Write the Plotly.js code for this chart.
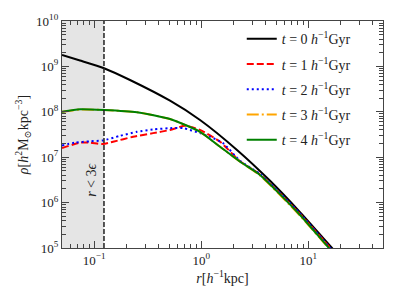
<!DOCTYPE html>
<html>
<head>
<meta charset="utf-8">
<script src="https://cdn.plot.ly/plotly-3.0.1.min.js"></script>
<style>html,body{margin:0;padding:0;background:#fff;}#plot{width:399px;height:299px;}</style>
</head>
<body>
<div id="plot"></div>
<script>
// radius in h^-1 kpc, log10 density in h^2 Msun kpc^-3
const r_t0 = [0.05, 0.0736, 0.1236, 0.216, 0.511, 0.975, 2.16, 4.40, 8.38, 16.7, 20];
const logrho_t0 = [9.25, 9.13, 8.96, 8.70, 8.244, 7.82, 7.16, 6.48, 5.79, 5.0, 4.79];

const r_t1 = [0.05, 0.0736, 0.0914, 0.121, 0.150, 0.231, 0.355, 0.511, 0.706, 0.975, 1.50, 2.31, 3.54, 8.38, 16.1, 20];
const logrho_t1 = [7.20, 7.32, 7.32, 7.29, 7.34, 7.45, 7.53, 7.60, 7.69, 7.60, 7.34, 6.91, 6.62, 5.75, 5.0, 4.75];

const r_t2 = [0.05, 0.0661, 0.0914, 0.121, 0.174, 0.251, 0.355, 0.511, 0.676, 0.975, 1.21, 1.60, 2.31, 3.54, 8.38, 16.0, 20];
const logrho_t2 = [7.26, 7.32, 7.35, 7.37, 7.47, 7.56, 7.61, 7.64, 7.64, 7.53, 7.45, 7.31, 6.92, 6.63, 5.76, 5.0, 4.75];

const r_t3 = [0.05, 0.0736, 0.1236, 0.251, 0.511, 0.975, 1.50, 2.31, 3.54, 8.38, 15.5, 20];
const logrho_t3 = [8.00, 8.05, 8.04, 7.99, 7.84, 7.56, 7.23, 6.90, 6.60, 5.71, 5.0, 4.70];

const r_t4 = [0.05, 0.0736, 0.1236, 0.251, 0.511, 0.975, 1.50, 2.31, 3.54, 8.38, 15.6, 20];
const logrho_t4 = [8.00, 8.055, 8.04, 7.99, 7.84, 7.56, 7.23, 6.90, 6.61, 5.727, 5.0, 4.72];

const seriesNames = [
  '<i>t</i> = 0 <i>h</i><sup>−1</sup>Gyr',
  '<i>t</i> = 1 <i>h</i><sup>−1</sup>Gyr',
  '<i>t</i> = 2 <i>h</i><sup>−1</sup>Gyr',
  '<i>t</i> = 3 <i>h</i><sup>−1</sup>Gyr',
  '<i>t</i> = 4 <i>h</i><sup>−1</sup>Gyr'
];

const rSoft = 0.1234;          // 3 epsilon
const xRange = [0.05, 50];
const yRangeLog = [5, 10];

const xTickVals = [0.1, 1, 10];
const xTickText = ['10<sup>−1</sup>', '10<sup>0</sup>', '10<sup>1</sup>'];
const yTickVals = [1e5, 1e6, 1e7, 1e8, 1e9, 1e10];
const yTickText = ['10<sup>5</sup>', '10<sup>6</sup>', '10<sup>7</sup>', '10<sup>8</sup>', '10<sup>9</sup>', '10<sup>10</sup>'];

function minorVals(d0, d1) {
  const out = [];
  for (let d = d0; d <= d1; d++) for (let k = 2; k <= 9; k++) out.push(k * Math.pow(10, d));
  return out;
}
const pw = a => a.map(v => Math.pow(10, v));

const FONT = 'Liberation Serif, DejaVu Serif, serif';

const styles = [
  {color: '#000000', dash: 'solid'},
  {color: '#ff0000', dash: '7px,3px'},
  {color: '#0000ff', dash: '2px,3px'},
  {color: '#ffa500', dash: '12px,3px,2px,3px'},
  {color: '#008000', dash: 'solid'}
];
const xs = [r_t0, r_t1, r_t2, r_t3, r_t4];
const ys = [logrho_t0, logrho_t1, logrho_t2, logrho_t3, logrho_t4];

const order = [0, 1, 2, 3, 4];
const traces = order.map(i => ({
  x: xs[i], y: pw(ys[i]), name: seriesNames[i], mode: 'lines', type: 'scatter',
  line: {color: styles[i].color, width: 2, dash: styles[i].dash, shape: 'spline', smoothing: 0.6},
  legendgroup: 'g' + i, legendrank: i + 1
}));
// draw green on top of orange
traces.push(traces.splice(3, 1)[0]);
traces.push(traces.splice(3, 1)[0]);

const axisCommon = {
  type: 'log', showgrid: false, zeroline: false, showline: true, linecolor: '#444', linewidth: 1.2,
  mirror: 'ticks', ticks: 'inside', ticklen: 7, tickwidth: 1, tickcolor: '#444',
  tickfont: {family: FONT, size: 13, color: '#222'}
};

const layout = {
  width: 399, height: 299,
  margin: {l: 62, r: 16, t: 21, b: 51},
  paper_bgcolor: '#fff', plot_bgcolor: '#fff',
  showlegend: true,
  legend: {x: 0.56, y: 0.99, xanchor: 'left', yanchor: 'top', bgcolor: 'rgba(0,0,0,0)',
           font: {family: FONT, size: 14, color: '#222'}, traceorder: 'grouped', tracegroupgap: 4},
  xaxis: Object.assign({}, axisCommon, {
    range: [Math.log10(xRange[0]), Math.log10(xRange[1])],
    tickmode: 'array', tickvals: xTickVals, ticktext: xTickText,
    minor: {tickmode: 'array', tickvals: minorVals(-2, 1), ticks: 'inside', ticklen: 4, tickcolor: '#444'},
    title: {text: '<i>r</i>[<i>h</i><sup>−1</sup>kpc]', font: {family: FONT, size: 14, color: '#222'}, standoff: 6}
  }),
  yaxis: Object.assign({}, axisCommon, {
    range: yRangeLog,
    tickmode: 'array', tickvals: yTickVals, ticktext: yTickText,
    minor: {tickmode: 'array', tickvals: minorVals(5, 9), ticks: 'inside', ticklen: 4, tickcolor: '#444'},
    title: {text: '<i>ρ</i>[<i>h</i><sup>2</sup>M<sub>⊙</sub>kpc<sup>−3</sup>]', font: {family: FONT, size: 14, color: '#222'}, standoff: 4}
  }),
  shapes: [
    {type: 'rect', xref: 'x', yref: 'paper', x0: xRange[0], x1: rSoft, y0: 0, y1: 1,
     fillcolor: '#e5e5e5', line: {width: 0}, layer: 'below'},
    {type: 'line', xref: 'x', yref: 'paper', x0: rSoft, x1: rSoft, y0: 0, y1: 1,
     line: {color: '#222', width: 1.5, dash: '5px,2px'}}
  ],
  annotations: [
    {xref: 'x', yref: 'y', x: Math.log10(0.0953), y: 6.5, text: '<i>r</i> < 3<i>ϵ</i>', showarrow: false,
     textangle: -90, font: {family: FONT, size: 14, color: '#222'}}
  ]
};

Plotly.newPlot('plot', traces, layout, {staticPlot: true, displayModeBar: false});
</script>
</body>
</html>
